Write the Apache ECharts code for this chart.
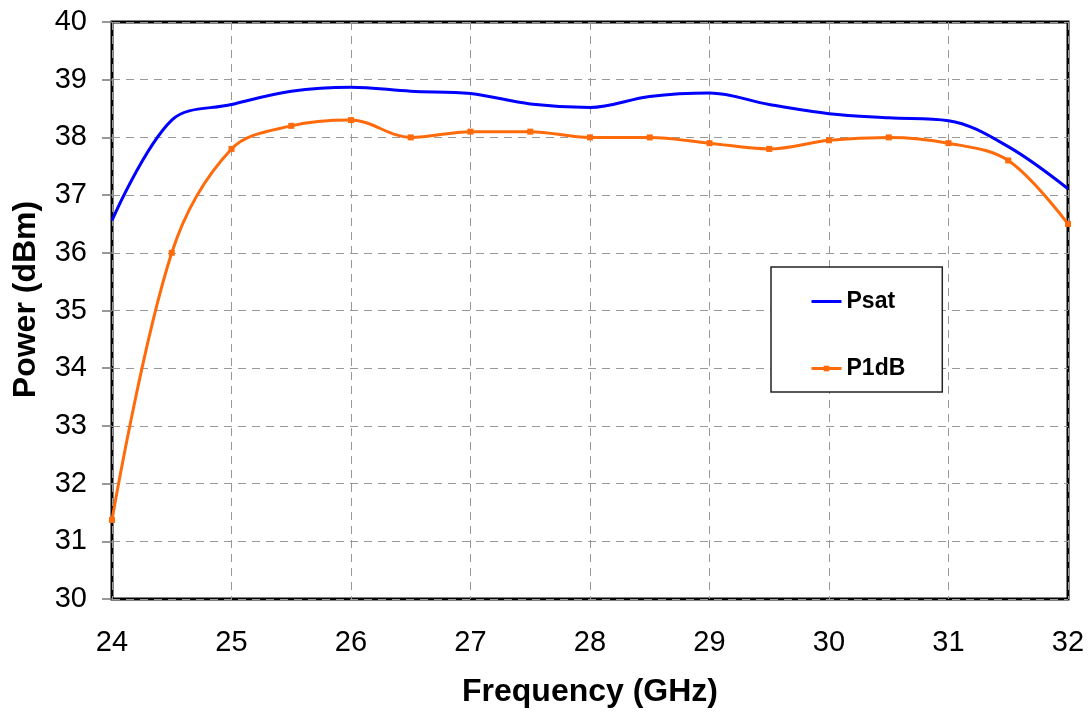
<!DOCTYPE html>
<html>
<head>
<meta charset="utf-8">
<style>html,body{margin:0;padding:0;background:#fff}#c{width:1092px;height:712px}</style>
<script src="https://cdn.jsdelivr.net/npm/echarts@6/dist/echarts.min.js"></script>
</head>
<body>
<div id="c"></div>
<script>
var freq = [24,24.5,25,25.5,26,26.5,27,27.5,28,28.5,29,29.5,30,30.5,31,31.5,32];
var psat = [36.56,38.3,38.57,38.8,38.87,38.8,38.76,38.58,38.52,38.71,38.77,38.57,38.41,38.34,38.29,37.84,37.11];
var p1db = [31.37,36.0,37.8,38.2,38.3,38.0,38.1,38.1,38.0,38.0,37.9,37.8,37.95,38.0,37.9,37.6,36.5];
function pairs(v){return freq.map(function(f,i){return [f,v[i]];});}
var FONT = '"Liberation Sans", Arial, sans-serif';
var chart = echarts.init(document.getElementById('c'));
chart.setOption({
  animation:false,
  grid:{left:112,right:24,top:22,bottom:113,outerBoundsMode:'none',containLabel:false,show:true,borderColor:'#000',borderWidth:3,backgroundColor:'transparent'},
  xAxis:{type:'value',min:24,max:32,interval:1,
    name:'Frequency (GHz)',nameLocation:'middle',nameGap:77,
    nameTextStyle:{fontFamily:FONT,fontWeight:'bold',fontSize:32,color:'#000'},
    axisLine:{show:false},axisTick:{show:false},
    axisLabel:{fontFamily:FONT,fontSize:29,color:'#000',margin:29},
    splitLine:{show:true,lineStyle:{color:'#999',type:[8,6],width:1}}},
  yAxis:{type:'value',min:30,max:40,interval:1,
    name:'Power (dBm)',nameLocation:'middle',nameGap:70,
    nameTextStyle:{fontFamily:FONT,fontWeight:'bold',fontSize:32,color:'#000',padding:[0,0,0,22]},
    axisLine:{show:false},axisTick:{show:true,length:10,lineStyle:{color:'#777',width:1.5}},
    axisLabel:{fontFamily:FONT,fontSize:29,color:'#000',margin:25},
    splitLine:{show:true,lineStyle:{color:'#999',type:[8,6],width:1}}},
  legend:{orient:'vertical',left:771,top:267,itemWidth:30,itemHeight:7,itemGap:44,
    padding:[23,37,12,39],borderColor:'#222',borderWidth:1.5,backgroundColor:'#fff',
    lineStyle:{width:3},
    textStyle:{fontFamily:FONT,fontWeight:'bold',fontSize:23,color:'#000'},
    data:[{name:'Psat',itemStyle:{opacity:0}},{name:'P1dB'}]},
  series:[
    {name:'Psat',type:'line',smooth:0.35,showSymbol:false,
     lineStyle:{color:'#0000FF',width:3},itemStyle:{color:'#0000FF'},data:pairs(psat)},
    {name:'P1dB',type:'line',smooth:0.35,symbol:'rect',symbolSize:6,
     lineStyle:{color:'#FF6A0A',width:3},itemStyle:{color:'#FF6A0A'},data:pairs(p1db)}
  ]
});
</script>
</body>
</html>
